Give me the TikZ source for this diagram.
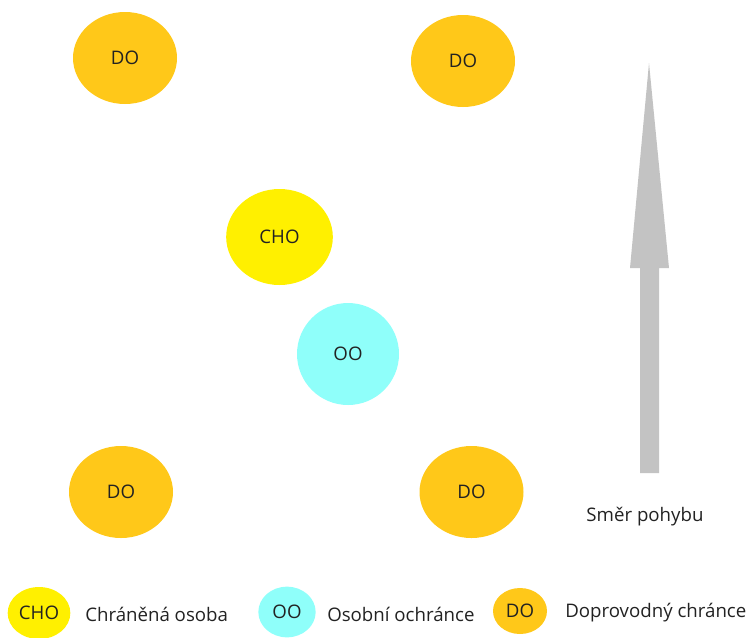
\documentclass[tikz,border=0pt]{standalone}
\usepackage{fontspec}
\setmainfont{Open Sans}
\usetikzlibrary{shapes.geometric}
\definecolor{doorange}{RGB}{255,200,25}
\definecolor{choyellow}{RGB}{255,240,0}
\definecolor{oocyan}{RGB}{143,255,250}
\definecolor{arrowgray}{RGB}{195,195,195}
\definecolor{textgray}{RGB}{34,34,34}

\begin{document}
\begin{tikzpicture}[x=0.75pt,y=-0.75pt,
  every node/.style={font=\fontsize{14}{16}\selectfont,text=textgray},
  person/.style={ellipse,inner sep=0pt},
  dobox/.style={person,fill=doorange,minimum width=78pt,minimum height=69pt},
  legendtext/.style={anchor=west,inner sep=0pt}]
\useasboundingbox (0,0) rectangle (749,637);
% escort and protected person
\node[dobox] (do1) at (125,58) {DO};
\node[dobox] (do2) at (463,61) {DO};
\node[person,fill=choyellow,minimum width=80pt,minimum height=72pt] (cho) at (279.5,237) {CHO};
\node[person,fill=oocyan,minimum width=76.5pt,minimum height=76.5pt] (oo) at (348,354) {OO};
\node[dobox] (do3) at (121,492) {DO};
\node[dobox] (do4) at (471.5,492) {DO};
% direction of movement
\fill[arrowgray] (649,63) -- (669,268) -- (659,268) -- (659,473) -- (640,473) -- (640,268) -- (630,268) -- cycle;
\node (smer) at (645,517) {Směr pohybu};
% legend
\node[person,fill=choyellow,minimum width=47pt,minimum height=39pt] (lcho) at (39,613) {CHO};
\node[legendtext] (tcho) at (85,614) {Chráněná osoba};
\node[person,fill=oocyan,minimum width=43pt,minimum height=38pt] (loo) at (287,612) {OO};
\node[legendtext] (too) at (327,614) {Osobní ochránce};
\node[person,fill=doorange,minimum width=40.5pt,minimum height=34.5pt] (ldo) at (520,611) {DO};
\node[legendtext] (tdo) at (565,613) {Doprovodný chránce};
\end{tikzpicture}
\end{document}
